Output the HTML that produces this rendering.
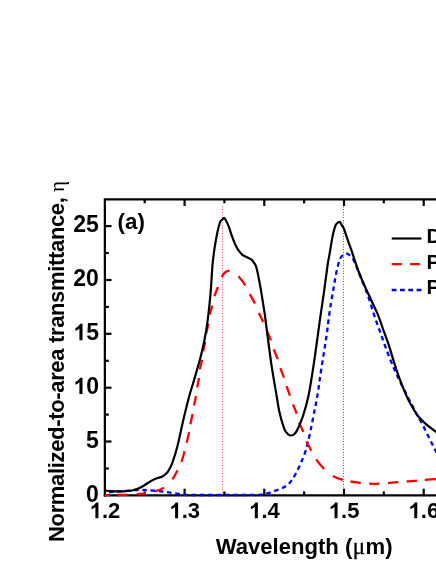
<!DOCTYPE html>
<html><head><meta charset="utf-8"><title>chart</title>
<style>
html,body{margin:0;padding:0;background:#fff;overflow:hidden}
svg{display:block;will-change:transform}
text{font-family:"Liberation Sans",sans-serif;font-weight:bold;fill:#000}
</style></head><body>
<svg width="436" height="564" viewBox="0 0 436 564">
<rect width="436" height="564" fill="#fff"/>
<line x1="222.5" y1="206.5" x2="222.5" y2="495.4" stroke="#ff0000" stroke-width="1" stroke-dasharray="1 1.5 1 2 1 1.5" opacity="0.66"/>
<line x1="343.5" y1="206.5" x2="343.5" y2="495.4" stroke="#0000ff" stroke-width="1" stroke-dasharray="1 1.5 1 2 1 1.5" opacity="0.66"/>
<g stroke="#000" stroke-width="2.2" fill="none">
<path d="M104.85 496.5 V199.3 H440"/>
<line x1="103.75" y1="495.4" x2="440" y2="495.4"/>
<line x1="144.7" y1="495.4" x2="144.7" y2="491.4"/><line x1="144.7" y1="199.3" x2="144.7" y2="203.3"/><line x1="184.6" y1="495.4" x2="184.6" y2="488.7"/><line x1="184.6" y1="199.3" x2="184.6" y2="206.0"/><line x1="224.4" y1="495.4" x2="224.4" y2="491.4"/><line x1="224.4" y1="199.3" x2="224.4" y2="203.3"/><line x1="264.3" y1="495.4" x2="264.3" y2="488.7"/><line x1="264.3" y1="199.3" x2="264.3" y2="206.0"/><line x1="304.1" y1="495.4" x2="304.1" y2="491.4"/><line x1="304.1" y1="199.3" x2="304.1" y2="203.3"/><line x1="344.0" y1="495.4" x2="344.0" y2="488.7"/><line x1="344.0" y1="199.3" x2="344.0" y2="206.0"/><line x1="383.8" y1="495.4" x2="383.8" y2="491.4"/><line x1="383.8" y1="199.3" x2="383.8" y2="203.3"/><line x1="423.7" y1="495.4" x2="423.7" y2="488.7"/><line x1="423.7" y1="199.3" x2="423.7" y2="206.0"/><line x1="104.8" y1="468.5" x2="108.8" y2="468.5"/><line x1="104.8" y1="441.5" x2="111.5" y2="441.5"/><line x1="104.8" y1="414.6" x2="108.8" y2="414.6"/><line x1="104.8" y1="387.7" x2="111.5" y2="387.7"/><line x1="104.8" y1="360.8" x2="108.8" y2="360.8"/><line x1="104.8" y1="333.8" x2="111.5" y2="333.8"/><line x1="104.8" y1="306.9" x2="108.8" y2="306.9"/><line x1="104.8" y1="280.0" x2="111.5" y2="280.0"/><line x1="104.8" y1="253.0" x2="108.8" y2="253.0"/><line x1="104.8" y1="226.1" x2="111.5" y2="226.1"/>
</g>
<g fill="none" stroke-linejoin="round">
<path d="M104.8 492.5C105.7 492.4 107.5 492.4 110.0 492.2C112.5 492.0 115.3 491.8 120.0 491.4C124.7 491.0 132.8 490.2 137.9 490.0C143.0 489.8 146.3 490.1 150.5 490.4C154.7 490.7 159.8 491.2 163.0 491.6C166.2 492.0 167.6 492.4 170.0 492.7C172.4 493.0 175.0 493.2 177.5 493.6C180.0 494.0 181.2 494.7 185.0 494.9C188.8 495.1 191.6 495.0 200.0 495.0C208.4 495.0 226.1 495.0 235.3 495.0C244.5 495.0 250.6 495.0 255.0 494.9C259.4 494.8 260.0 494.6 262.0 494.4C264.0 494.1 265.1 493.9 267.1 493.4C269.1 492.9 271.7 491.9 273.8 491.2C275.9 490.5 278.0 489.7 279.8 489.0C281.6 488.3 283.1 487.8 284.5 487.0C285.9 486.2 287.2 485.2 288.5 484.0C289.8 482.8 290.9 481.4 292.0 479.8C293.1 478.2 294.2 476.4 295.3 474.5C296.4 472.6 297.4 470.5 298.4 468.4C299.4 466.3 300.3 464.4 301.3 462.0C302.3 459.6 303.6 457.0 304.6 453.9C305.7 450.8 306.5 447.9 307.6 443.5C308.7 439.1 310.1 432.9 311.2 427.5C312.3 422.1 313.5 415.4 314.4 411.0C315.3 406.6 315.8 404.5 316.4 401.0C317.0 397.5 317.7 393.9 318.3 390.0C318.9 386.1 319.1 384.0 320.0 377.7C320.9 371.4 322.9 358.9 324.0 352.0C325.1 345.1 325.8 341.3 326.5 336.0C327.2 330.7 327.8 325.7 328.5 320.2C329.2 314.7 330.1 308.4 331.0 303.0C331.9 297.6 332.8 292.5 333.6 288.0C334.4 283.5 334.9 280.0 335.7 275.8C336.5 271.6 337.9 265.8 338.7 262.8C339.5 259.8 339.9 259.2 340.5 258.0C341.1 256.8 341.6 256.4 342.5 255.6C343.4 254.8 344.7 253.7 345.7 253.5C346.7 253.3 347.5 253.8 348.3 254.2C349.1 254.6 349.7 255.2 350.5 256.0C351.3 256.8 352.0 257.2 352.9 258.8C353.8 260.4 354.8 262.7 356.0 265.5C357.2 268.3 358.5 271.8 360.0 275.5C361.5 279.2 363.3 283.4 365.0 287.8C366.7 292.2 368.4 297.0 370.0 301.8C371.6 306.6 373.0 311.7 374.7 316.7C376.4 321.7 378.2 326.6 380.0 331.6C381.8 336.6 383.5 341.5 385.3 346.5C387.1 351.5 389.2 357.1 391.0 361.4C392.8 365.7 394.3 369.1 395.8 372.5C397.3 375.9 398.3 378.2 400.2 382.0C402.1 385.8 405.0 391.3 407.1 395.5C409.2 399.7 411.2 403.6 413.0 407.0C414.8 410.4 416.0 412.9 417.7 416.0C419.4 419.1 421.3 422.3 423.1 425.7C424.9 429.1 426.8 433.1 428.4 436.4C430.0 439.7 431.5 442.8 432.8 445.3C434.1 447.8 434.8 449.1 436.0 451.5C437.2 453.9 439.3 458.2 440.0 459.5" stroke="#0000ff" stroke-width="2.3" stroke-dasharray="4.6 3.7" stroke-dashoffset="4"/>
<path d="M104.6 495.1C105.5 495.1 108.0 495.1 110.1 495.1M117.4 495.0C120.3 494.9 124.3 494.9 127.5 494.8M136.7 494.2C139.8 493.9 142.8 493.8 145.9 493.3M155.2 491.3C158.2 490.4 161.1 489.6 164.0 487.6M172.4 479.2C174.7 476.3 176.0 473.3 177.5 470.4M181.5 461.9C182.7 458.7 183.7 454.5 184.5 451.3M186.6 442.8C187.4 439.6 188.5 435.2 189.1 432.1M190.4 424.3C191.0 421.3 192.0 417.1 192.6 414.0M194.0 405.5C194.6 402.5 195.5 399.0 196.0 396.0M197.2 387.4C197.7 384.4 198.6 381.0 199.0 378.0M199.9 369.4C200.4 366.4 201.5 362.9 202.0 359.9M203.1 351.4C203.6 348.4 204.7 344.8 205.2 341.8M206.3 333.3C206.8 330.3 207.8 326.8 208.4 323.7M209.9 314.6C210.5 311.6 211.4 308.7 212.2 305.6M214.5 296.3C215.4 293.2 216.7 290.2 217.9 287.0M221.8 277.3C222.9 274.9 223.2 273.9 224.5 272.8C225.8 271.7 228.0 270.9 229.5 270.7M238.5 276.3C240.5 278.6 243.4 282.3 245.3 285.3M249.9 294.1C251.5 297.2 253.5 300.5 255.0 303.6M258.9 312.9C260.3 315.9 261.8 318.9 263.2 321.9M267.0 330.9C268.3 334.0 269.8 337.3 270.9 340.4M273.8 349.4C274.9 352.5 276.6 356.0 277.7 359.1M280.4 368.1C281.4 371.2 283.0 374.7 284.0 377.7M286.6 386.2C287.6 389.2 288.9 392.7 290.0 395.7M293.0 404.3C294.1 407.3 295.7 410.5 296.7 413.6M299.1 422.7C300.2 425.8 302.2 428.8 303.4 431.9M306.5 441.3C307.8 444.4 309.7 447.6 311.3 450.6M316.2 459.4C318.3 462.4 321.3 466.1 324.1 468.9M333.0 475.9C336.1 477.7 340.1 479.0 343.0 479.9M350.5 481.5C353.5 482.0 357.7 482.5 360.8 482.9M369.2 483.7C372.3 483.8 376.4 483.8 379.5 483.7M388.0 483.1C391.1 482.9 395.2 482.5 398.3 482.2M406.7 481.5C409.8 481.2 414.0 480.9 417.0 480.6M424.8 479.9C428.1 479.6 435.0 479.1 437.0 479.0" stroke="#ff0000" stroke-width="2.3"/>
<path d="M104.8 490.5C105.4 490.6 107.6 490.9 109.0 491.0C110.4 491.1 113.5 491.2 115.1 491.3C116.7 491.4 119.3 491.4 121.0 491.4C122.7 491.4 126.2 491.1 127.8 491.0C129.4 490.9 131.8 490.6 133.0 490.3C134.2 490.0 135.9 489.5 137.0 489.1C138.1 488.7 140.3 487.6 141.5 487.0C142.7 486.4 144.8 485.0 145.9 484.3C147.0 483.6 148.8 482.3 150.0 481.6C151.2 480.9 153.3 479.6 155.0 478.9C156.7 478.2 160.8 477.2 162.4 476.4C164.0 475.6 166.1 473.8 167.0 472.8C167.9 471.8 168.7 470.5 169.5 469.0C170.3 467.5 171.6 465.0 172.7 461.9C173.8 458.8 176.3 450.7 177.6 445.5C178.9 440.3 181.2 429.4 182.7 422.8C184.2 416.2 187.8 401.7 189.2 396.3C190.6 390.9 191.9 387.4 193.5 382.0C195.1 376.6 199.3 362.5 201.0 355.6C202.7 348.7 205.0 338.2 206.3 330.0C207.6 321.8 209.7 302.7 210.5 294.0C211.3 285.3 211.9 271.3 212.5 265.0C213.1 258.7 214.1 251.1 214.8 246.7C215.5 242.3 216.7 235.6 217.4 232.3C218.1 229.0 219.5 223.7 220.1 222.0C220.7 220.3 221.4 220.3 222.0 219.8C222.6 219.3 223.7 217.8 224.3 218.1C224.9 218.4 226.1 220.6 226.7 221.9C227.3 223.2 228.4 225.5 229.1 227.5C229.8 229.5 231.4 234.8 232.3 237.1C233.2 239.4 234.6 243.3 235.5 245.1C236.4 246.9 237.7 249.4 238.7 250.7C239.7 252.0 241.5 254.2 242.7 255.1C243.9 256.0 246.3 256.8 247.5 257.4C248.7 258.0 250.6 258.9 251.5 259.6C252.4 260.3 253.3 261.7 254.0 262.8C254.7 263.9 255.5 264.3 256.4 267.5C257.3 270.7 259.3 281.0 260.4 287.1C261.5 293.2 263.9 308.5 264.7 313.6C265.5 318.7 265.3 318.8 266.2 325.5C267.1 332.2 269.9 354.4 271.3 363.8C272.7 373.2 275.5 389.3 276.6 395.7C277.7 402.1 278.4 407.5 279.4 412.0C280.4 416.5 283.3 426.1 284.4 429.1C285.5 432.1 287.1 433.3 288.0 434.2C288.9 435.1 290.4 435.5 291.3 435.5C292.2 435.5 293.7 434.8 294.5 434.0C295.3 433.2 296.4 431.8 297.5 429.5C298.6 427.2 301.3 421.0 302.8 416.5C304.3 412.0 307.0 402.7 308.5 395.7C310.0 388.7 312.6 371.7 313.8 363.8C315.0 355.9 316.9 342.2 317.7 336.2C318.5 330.2 319.2 325.0 320.0 319.1C320.8 313.2 323.0 299.2 324.0 292.0C325.0 284.8 326.8 270.4 327.6 265.0C328.4 259.6 329.4 255.2 330.0 251.5C330.6 247.8 331.8 240.3 332.4 237.1C333.0 233.9 334.3 229.2 334.8 227.5C335.3 225.8 335.7 225.0 336.3 224.2C336.9 223.4 338.9 221.7 339.6 221.8C340.3 221.9 341.1 224.1 341.7 225.1C342.3 226.1 343.4 227.3 344.1 229.1C344.8 230.9 346.3 235.9 347.3 238.7C348.3 241.5 350.3 247.1 351.3 249.9C352.3 252.7 353.5 256.7 354.5 259.6C355.5 262.5 357.4 268.4 358.8 272.0C360.2 275.6 363.4 283.1 365.1 286.9C366.8 290.7 369.8 297.0 371.5 300.7C373.2 304.4 376.3 310.8 377.9 314.6C379.5 318.4 381.8 325.5 383.2 329.5C384.6 333.5 387.2 340.3 388.6 344.4C390.0 348.5 392.3 356.8 393.5 360.5C394.7 364.2 396.1 368.9 397.3 372.4C398.5 375.9 401.2 383.0 402.6 386.6C404.0 390.2 406.6 396.1 408.0 399.1C409.4 402.1 411.9 406.4 413.3 408.8C414.7 411.2 416.9 414.8 418.6 416.8C420.3 418.8 423.4 421.9 425.7 423.9C428.0 425.9 433.8 430.3 436.0 431.9C438.2 433.5 441.2 435.5 442.0 436.0" stroke="#000" stroke-width="2.2"/>
</g>
<g font-size="22"><path transform="translate(89.76 518.30) scale(0.010742)" d="M806 0H525V-1059Q371 -915 162 -846V-1101Q272 -1137 401 -1237.5T578 -1472H806Z"/><text x="101.99" y="518.3">.2</text><path transform="translate(169.47 518.30) scale(0.010742)" d="M806 0H525V-1059Q371 -915 162 -846V-1101Q272 -1137 401 -1237.5T578 -1472H806Z"/><text x="181.70" y="518.3">.3</text><path transform="translate(249.18 518.30) scale(0.010742)" d="M806 0H525V-1059Q371 -915 162 -846V-1101Q272 -1137 401 -1237.5T578 -1472H806Z"/><text x="261.41" y="518.3">.4</text><path transform="translate(328.89 518.30) scale(0.010742)" d="M806 0H525V-1059Q371 -915 162 -846V-1101Q272 -1137 401 -1237.5T578 -1472H806Z"/><text x="341.12" y="518.3">.5</text><path transform="translate(408.60 518.30) scale(0.010742)" d="M806 0H525V-1059Q371 -915 162 -846V-1101Q272 -1137 401 -1237.5T578 -1472H806Z"/><text x="420.83" y="518.3">.6</text></g><g font-size="23"><text x="98.85" y="501.8" text-anchor="end">0</text><text x="98.85" y="447.9" text-anchor="end">5</text><path transform="translate(73.60 394.03) scale(0.011084)" d="M806 0H525V-1059Q371 -915 162 -846V-1101Q272 -1137 401 -1237.5T578 -1472H806Z"/><text x="86.23" y="394.0">0</text><path transform="translate(73.60 340.17) scale(0.011084)" d="M806 0H525V-1059Q371 -915 162 -846V-1101Q272 -1137 401 -1237.5T578 -1472H806Z"/><text x="86.23" y="340.2">5</text><text x="98.85" y="286.3" text-anchor="end">20</text><text x="98.85" y="232.4" text-anchor="end">25</text></g>
<text x="117.6" y="229" font-size="22.3">(a)</text>
<text x="215.7" y="554" font-size="22.1">Wavelength (<tspan font-family="Liberation Serif" font-weight="normal" font-size="23" stroke="#000" stroke-width="0.35" dx="0.3">μ</tspan><tspan dx="0.6">m)</tspan></text>
<text transform="translate(63.9,542) rotate(-90)" font-size="22" letter-spacing="-0.34">Normalized-to-area transmittance,<tspan font-family="Liberation Serif" font-weight="normal" font-size="21" dx="5.5" letter-spacing="0">η</tspan></text>
<g stroke-width="2.3" fill="none">
<line x1="391.7" y1="238.5" x2="421.4" y2="238.5" stroke="#000" stroke-width="2.15"/>
<path d="M391.7 264.1H401.8M410.1 264.1H419.9" stroke="#ff0000"/>
<line x1="391.7" y1="290" x2="421.5" y2="290" stroke="#0000ff" stroke-dasharray="4.8 3.5"/>
</g>
<g font-size="20.5">
<text x="426.6" y="243">D</text>
<text x="426.6" y="268.6">P</text>
<text x="426.6" y="294.4">P</text>
</g>
</svg>
</body></html>
